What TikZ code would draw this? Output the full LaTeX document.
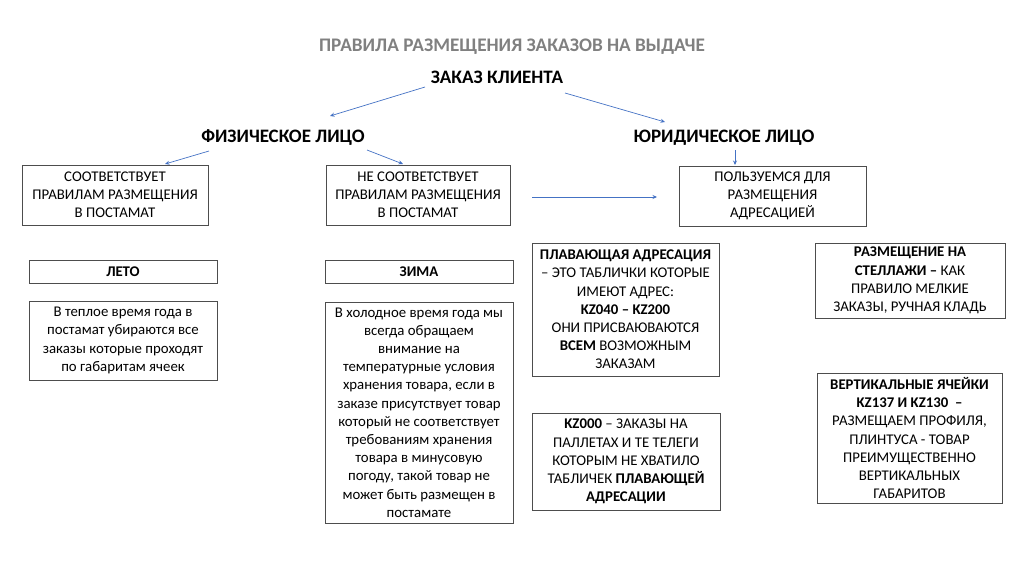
\documentclass[tikz,border=0pt]{standalone}
\usepackage{fontspec}
\setmainfont{Carlito}
\usetikzlibrary{arrows.meta}
\definecolor{arrowblue}{HTML}{4472C4}
\definecolor{titlegray}{HTML}{808080}
\definecolor{boxline}{HTML}{4D4D4D}
\tikzset{
  box/.style={draw=boxline, line width=0.9pt, inner sep=0pt, align=center,
    font=\fontsize{14.8}{18.2}\selectfont},
  head/.style={font=\fontsize{19}{22}\selectfont\bfseries, inner sep=0pt},
  conn/.style={draw=arrowblue, line width=0.7pt, -{Stealth[length=4.5pt,width=4pt]}},
}
\begin{document}
\begin{tikzpicture}[x=1pt,y=-1pt]
\useasboundingbox (0,0) rectangle (1024,574);
\node[font=\fontsize{19.2}{22}\selectfont\bfseries, text=titlegray, inner sep=0pt] (title) at (512,47) {ПРАВИЛА РАЗМЕЩЕНИЯ ЗАКАЗОВ НА ВЫДАЧЕ};
\node[head] (zakaz) at (497,77) {ЗАКАЗ КЛИЕНТА};
\node[head] (fiz) at (283,138) {ФИЗИЧЕСКОЕ ЛИЦО};
\node[head] (yur) at (724,138) {ЮРИДИЧЕСКОЕ ЛИЦО};

\node[box, minimum width=186, minimum height=60] (sootv) at (115,195) {СООТВЕТСТВУЕТ\\ПРАВИЛАМ РАЗМЕЩЕНИЯ\\В ПОСТАМАТ};
\node[box, minimum width=184, minimum height=60] (nesootv) at (418,195) {НЕ СООТВЕТСТВУЕТ\\ПРАВИЛАМ РАЗМЕЩЕНИЯ\\В ПОСТАМАТ};
\node[box, minimum width=187, minimum height=60] (polz) at (772.5,196) {ПОЛЬЗУЕМСЯ ДЛЯ\\РАЗМЕЩЕНИЯ\\АДРЕСАЦИЕЙ};

\node[box, minimum width=188, minimum height=23, font=\fontsize{14.8}{18.2}\selectfont\bfseries] (leto) at (123,271.5) {ЛЕТО};
\node[box, minimum width=188, minimum height=23, font=\fontsize{14.8}{18.2}\selectfont\bfseries] (zima) at (419,271.5) {ЗИМА};

\node[box, minimum width=188, minimum height=79] (letotext) at (123,340.5) {В теплое время года в\\постамат убираются все\\заказы которые проходят\\по габаритам ячеек};
\node[box, minimum width=188, minimum height=221] (zimatext) at (419,412.5) {В холодное время года мы\\всегда обращаем\\внимание на\\температурные условия\\хранения товара, если в\\заказе присутствует товар\\который не соответствует\\требованиям хранения\\товара в минусовую\\погоду, такой товар не\\может быть размещен в\\постамате};

\node[box, minimum width=187, minimum height=133] (plav) at (625.5,309.5) {\textbf{ПЛАВАЮЩАЯ АДРЕСАЦИЯ}\\– ЭТО ТАБЛИЧКИ КОТОРЫЕ\\ИМЕЮТ АДРЕС:\\\textbf{KZ040 – KZ200}\\ОНИ ПРИСВАЮВАЮТСЯ\\\textbf{ВСЕМ} ВОЗМОЖНЫМ\\ЗАКАЗАМ};
\node[box, minimum width=188, minimum height=97] (kz) at (626,461.5) {\textbf{KZ000} – ЗАКАЗЫ НА\\ПАЛЛЕТАХ И ТЕ ТЕЛЕГИ\\КОТОРЫМ НЕ ХВАТИЛО\\ТАБЛИЧЕК \textbf{ПЛАВАЮЩЕЙ}\\\textbf{АДРЕСАЦИИ}};
\node[box, minimum width=190, minimum height=75] (stel) at (910,280.5) {\textbf{РАЗМЕЩЕНИЕ НА}\\\textbf{СТЕЛЛАЖИ –} КАК\\ПРАВИЛО МЕЛКИЕ\\ЗАКАЗЫ, РУЧНАЯ КЛАДЬ};
\node[box, minimum width=185, minimum height=130] (vert) at (909.5,438) {\textbf{ВЕРТИКАЛЬНЫЕ ЯЧЕЙКИ}\\\textbf{KZ137 И KZ130 \ –}\\РАЗМЕЩАЕМ ПРОФИЛЯ,\\ПЛИНТУСА - ТОВАР\\ПРЕИМУЩЕСТВЕННО\\ВЕРТИКАЛЬНЫХ\\ГАБАРИТОВ};

\coordinate (a1s) at (425,87);  \coordinate (a1e) at (330,116);
\coordinate (a2s) at (565,93);  \coordinate (a2e) at (665,122);
\coordinate (a3s) at (209,151); \coordinate (a3e) at (165,164);
\coordinate (a4s) at (367,150); \coordinate (a4e) at (403,164);
\coordinate (a5s) at (735,150); \coordinate (a5e) at (735,165);
\coordinate (a6s) at (532,197); \coordinate (a6e) at (657,197);
\draw[conn] (a1s) -- (a1e);
\draw[conn] (a2s) -- (a2e);
\draw[conn] (a3s) -- (a3e);
\draw[conn] (a4s) -- (a4e);
\draw[conn] (a5s) -- (a5e);
\draw[conn] (a6s) -- (a6e);
\end{tikzpicture}
\end{document}
